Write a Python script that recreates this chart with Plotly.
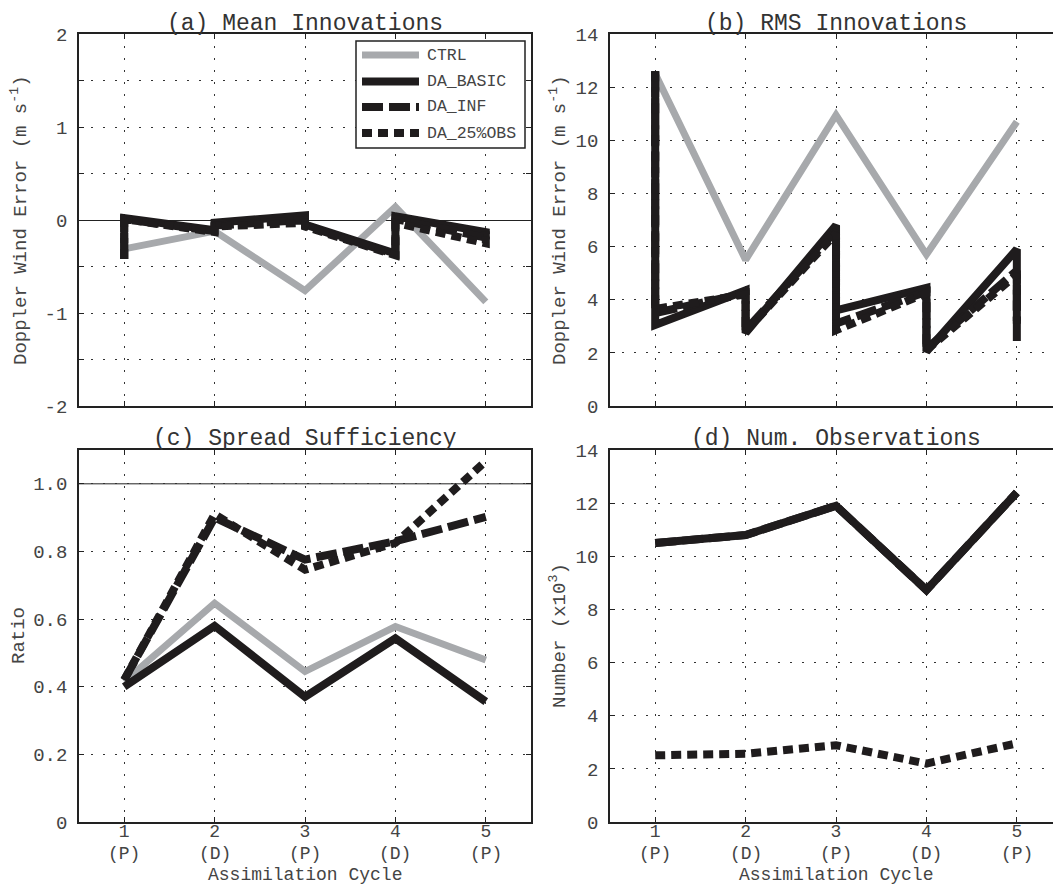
import plotly.graph_objects as go

# ---------------- data ----------------
cycles = [1, 2, 3, 4, 5]
cycle_nums = ["1", "2", "3", "4", "5"]
cycle_types = ["(P)", "(D)", "(P)", "(D)", "(P)"]

series_names = ["CTRL", "DA_BASIC", "DA_INF", "DA_25%OBS"]

# (a) Mean innovations (m/s): CTRL one value per cycle, DA runs prior -> posterior
a_ctrl = [-0.31, -0.12, -0.76, 0.14, -0.88]
a_basic_prior = [-0.42, -0.11, 0.05, -0.36, -0.13]
a_basic_post = [0.02, -0.03, -0.05, 0.04, -0.21]
a_inf_prior = [-0.42, -0.12, 0.00, -0.37, -0.19]
a_inf_post = [0.01, -0.06, -0.06, 0.01, -0.12]
a_obs_prior = [-0.42, -0.13, -0.03, -0.38, -0.25]
a_obs_post = [0.01, -0.07, -0.07, -0.03, -0.15]

# (b) RMS innovations (m/s)
b_ctrl = [12.5, 5.5, 10.95, 5.7, 10.7]
b_basic_prior = [12.6, 4.35, 6.8, 4.45, 5.9]
b_basic_post = [3.05, 2.75, 3.6, 2.05, 2.45]
b_inf_prior = [12.6, 4.25, 6.6, 4.3, 5.1]
b_inf_post = [3.5, 2.85, 3.1, 2.15, 3.1]
b_obs_prior = [12.6, 4.2, 6.5, 4.25, 4.95]
b_obs_post = [3.65, 2.8, 2.85, 2.1, 3.2]

# (c) Spread sufficiency ratio
c_ctrl = [0.415, 0.647, 0.445, 0.578, 0.479]
c_basic = [0.40, 0.58, 0.37, 0.543, 0.356]
c_inf = [0.42, 0.90, 0.776, 0.83, 0.902]
c_obs = [0.42, 0.91, 0.746, 0.825, 1.067]

# (d) Number of observations (x10^3)
d_basic = [10.5, 10.8, 11.9, 8.73, 12.4]
d_inf = [10.5, 10.8, 11.9, 8.73, 12.4]
d_obs = [2.51, 2.57, 2.89, 2.2, 2.96]

# y tick definitions
a_ticks = [-2, -1, 0, 1, 2]
a_ticktext = ["-2", "-1", "0", "1", "2"]
a_minor_ticks = [-1.5, -0.5, 0.5, 1.5]
b_ticks = [0, 2, 4, 6, 8, 10, 12, 14]
c_ticks = [0, 0.2, 0.4, 0.6, 0.8, 1.0]
c_ticktext = ["0", "0.2", "0.4", "0.6", "0.8", "1.0"]
d_ticks = [0, 2, 4, 6, 8, 10, 12, 14]

panel_titles = ["(a) Mean Innovations", "(b) RMS Innovations",
                "(c) Spread Sufficiency", "(d) Num. Observations"]
ylabels = ["Doppler Wind Error (m s<sup>-1</sup>)", "Doppler Wind Error (m s<sup>-1</sup>)",
           "Ratio", "Number (x10<sup>3</sup>)"]
xlabel = "Assimilation Cycle"

# ---------------- styles ----------------
BLACK = "#1f1c1d"
GRAY = "#a7a9ac"
series_colors = [GRAY, BLACK, BLACK, BLACK]
series_dash = ["solid", "solid", "21px,6px", "10px,6px"]
series_width = [7, 8, 8, 8]
FONT = "Liberation Mono"
TXT = "#444444"

W, H = 1053, 885
ML, MR, MT, MB = 79, 0, 34, 63
PW, PH = W - ML - MR, H - MT - MB


def px(x):
    return (x - ML) / PW


def py(y):
    return (H - MB - y) / PH


def saw(prior, post):
    xs, ys = [], []
    for c, p, q in zip(cycles, prior, post):
        xs += [c, c]
        ys += [p, q]
    return xs, ys


fig = go.Figure()


def add(xs, ys, idx, xa, ya):
    fig.add_trace(go.Scatter(
        x=xs, y=ys, mode="lines", name=series_names[idx], showlegend=False,
        line=dict(color=series_colors[idx], width=series_width[idx], dash=series_dash[idx]),
        xaxis=xa, yaxis=ya))


# (a)
add(cycles, a_ctrl, 0, "x", "y")
for i, (pr, po) in enumerate([(a_basic_prior, a_basic_post), (a_inf_prior, a_inf_post),
                              (a_obs_prior, a_obs_post)], start=1):
    xs, ys = saw(pr, po)
    add(xs, ys, i, "x", "y")
# (b)
add(cycles, b_ctrl, 0, "x2", "y2")
for i, (pr, po) in enumerate([(b_basic_prior, b_basic_post), (b_inf_prior, b_inf_post),
                              (b_obs_prior, b_obs_post)], start=1):
    xs, ys = saw(pr, po)
    add(xs, ys, i, "x2", "y2")
# (c)
for i, ys in enumerate([c_ctrl, c_basic, c_inf, c_obs]):
    add(cycles, ys, i, "x3", "y3")
# (d)
add(cycles, d_basic, 1, "x4", "y4")
add(cycles, d_inf, 2, "x4", "y4")
add(cycles, d_obs, 3, "x4", "y4")

GRID = dict(gridcolor="#333333", gridwidth=1, griddash="2px,10px")
axis_base = dict(
    showline=True, linecolor="#222222", linewidth=1.7,
    ticks="inside", ticklen=5, tickcolor="#222222", tickwidth=1,
    showgrid=True, zeroline=False,
    tickfont=dict(family=FONT, size=19, color=TXT),
    **GRID,
)
xtickfont = dict(family=FONT, size=18, color=TXT)

xdom_l = [px(79), px(531)]
xdom_r = [px(610), 1.0]
ydom_t = [py(406), py(34)]
ydom_b = [py(822), py(450)]
XR_L = [0.5, 5.5]
XR_R = [0.5, 5.4]

fig.update_layout(
    width=W, height=H, margin=dict(l=ML, r=MR, t=MT, b=MB, autoexpand=False),
    paper_bgcolor="white", plot_bgcolor="white", showlegend=False,
    xaxis=dict(axis_base, domain=xdom_l, range=XR_L, tickvals=cycles, showticklabels=False,
               mirror="ticks", anchor="y"),
    yaxis=dict(axis_base, domain=ydom_t, range=[-2, 2], tickvals=a_ticks, ticktext=a_ticktext,
               mirror="ticks", anchor="x", zeroline=True, zerolinecolor="#222222",
               zerolinewidth=1, ticklabelstandoff=6,
               minor=dict(tickvals=a_minor_ticks, ticks="inside", ticklen=5,
                          tickcolor="#222222", tickwidth=1, showgrid=True, **GRID)),
    xaxis2=dict(axis_base, domain=xdom_r, range=XR_R, tickvals=cycles, showticklabels=False,
                mirror="ticks", anchor="y2"),
    yaxis2=dict(axis_base, domain=ydom_t, range=[0, 14], tickvals=b_ticks, mirror=False,
                anchor="x2", ticklabelstandoff=6),
    xaxis3=dict(axis_base, domain=xdom_l, range=XR_L, tickvals=cycles, ticktext=cycle_nums,
                mirror="ticks", anchor="y3", ticklabelstandoff=-8, tickfont=xtickfont),
    yaxis3=dict(axis_base, domain=ydom_b, range=[0, 1.1], tickvals=c_ticks, ticktext=c_ticktext,
                mirror="ticks", anchor="x3", ticklabelstandoff=6),
    xaxis4=dict(axis_base, domain=xdom_r, range=XR_R, tickvals=cycles, ticktext=cycle_nums,
                mirror="ticks", anchor="y4", ticklabelstandoff=-8, tickfont=xtickfont),
    yaxis4=dict(axis_base, domain=ydom_b, range=[0, 14], tickvals=d_ticks, mirror=False,
                anchor="x4", ticklabelstandoff=6),
)

shapes = []
annotations = []

# reference line at ratio = 1 in (c)
shapes.append(dict(type="line", xref="x3 domain", x0=0, x1=1, yref="y3", y0=1.0, y1=1.0,
                   line=dict(color="#222222", width=1), layer="below"))

# panel titles
title_y = [py(24.5), py(24.5), py(439), py(439)]
for k, (t, ty) in enumerate(zip(panel_titles, title_y)):
    xr = "x" if k == 0 else "x%d" % (k + 1)
    annotations.append(dict(text=t, xref=xr, x=3, yref="paper", y=ty, showarrow=False,
                            xanchor="center", yanchor="middle",
                            font=dict(family=FONT, size=23, color="#333333")))

# y axis titles
ylab_pos = [(19, 220), (558, 220), (19, 636), (558, 636)]
for t, (lx, ly) in zip(ylabels, ylab_pos):
    annotations.append(dict(text=t, xref="paper", x=px(lx), yref="paper", y=py(ly),
                            showarrow=False, textangle=-90, xanchor="center", yanchor="middle",
                            font=dict(family=FONT, size=19, color=TXT)))

# x axis second tick line and titles
for xr in ["x3", "x4"]:
    for c, t in zip(cycles, cycle_types):
        annotations.append(dict(text=t, xref=xr, x=c, yref="paper", y=py(854.5), showarrow=False,
                                xanchor="center", yanchor="middle",
                                font=dict(family=FONT, size=18, color=TXT)))
    annotations.append(dict(text=xlabel, xref=xr, x=3, yref="paper", y=py(875), showarrow=False,
                            xanchor="center", yanchor="middle",
                            font=dict(family=FONT, size=18, color=TXT)))

# manual legend in panel (a)
shapes.append(dict(type="rect", xref="paper", yref="paper", x0=px(356), x1=px(525),
                   y0=py(148), y1=py(41), fillcolor="white",
                   line=dict(color="#222222", width=1.5), layer="above"))
leg_y = [55, 81.5, 107, 133]
for i, ly in enumerate(leg_y):
    shapes.append(dict(type="line", xref="paper", yref="paper", x0=px(362), x1=px(419),
                       y0=py(ly), y1=py(ly), layer="above",
                       line=dict(color=series_colors[i], width=series_width[i],
                                 dash=series_dash[i])))
    annotations.append(dict(text=series_names[i], xref="paper", x=px(425), yref="paper",
                            y=py(ly), showarrow=False, xanchor="left", yanchor="middle",
                            font=dict(family=FONT, size=16.5, color=TXT)))

fig.update_layout(shapes=shapes, annotations=annotations)

fig.write_html("out.html", config={"displayModeBar": False},
               post_script="document.body.style.margin='0';document.body.style.overflow='hidden';")
